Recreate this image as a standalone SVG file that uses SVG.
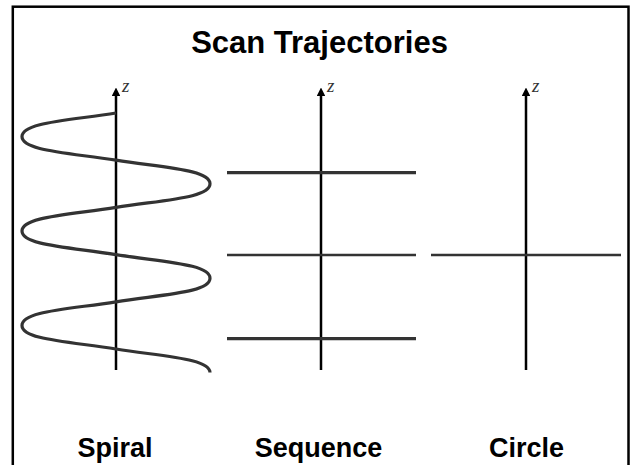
<svg xmlns="http://www.w3.org/2000/svg" width="630" height="465" viewBox="0 0 630 465">
<style>
.title{font-family:"Liberation Sans",Arial,sans-serif;font-weight:bold;font-size:31px;fill:#000;text-anchor:middle}
.lbl{font-family:"Liberation Sans",Arial,sans-serif;font-weight:bold;font-size:27px;fill:#000;text-anchor:middle}
.z{font-family:"Liberation Serif","Times New Roman",serif;font-style:italic;font-size:19px;fill:#333}
.axis{stroke:#000;stroke-width:2.5;fill:none}
.traj{stroke:#333;fill:none}
</style>
<defs>
<marker id="arr" viewBox="0 0 10 10" refX="0" refY="5" markerWidth="3.4" markerHeight="3.4" orient="auto" markerUnits="strokeWidth">
<path d="M0,0 L10,5 L0,10 z" fill="#000"/>
</marker>
</defs>
<rect x="0" y="0" width="630" height="465" fill="#fff"/>
<rect x="12.8" y="6.7" width="615.7" height="470" fill="none" stroke="#000" stroke-width="2.5"/>
<text class="title" x="319.5" y="53">Scan Trajectories</text>

<g id="spiral">
<line class="axis" x1="116" y1="370" x2="116" y2="96" marker-end="url(#arr)"/>
<text class="z" x="122" y="92">z</text>
<path class="traj" stroke-width="3.2" d="M116,113 C66,120.75 22,122.6 22,136.6 C22,150.6 66,152.45 116,160.2 C166,167.95 210,169.8 210,183.8 C210,197.8 166,199.65 116,207.4 C66,215.15 22,217 22,231 C22,245 66,246.85 116,254.6 C166,262.35 210,264.2 210,278.2 C210,292.2 166,294.05 116,301.8 C66,309.55 22,311.4 22,325.4 C22,339.4 66,341.25 116,349 C166,356.75 210,358.6 210,372.6"/>
<text class="lbl" x="115" y="457">Spiral</text>
</g>

<g id="sequence">
<line class="axis" x1="321" y1="370" x2="321" y2="96" marker-end="url(#arr)"/>
<text class="z" x="327" y="92">z</text>
<line class="traj" stroke-width="3.2" x1="227" y1="172.7" x2="416" y2="172.7"/>
<line class="traj" stroke-width="2.4" x1="227" y1="255" x2="416" y2="255"/>
<line class="traj" stroke-width="3.2" x1="227" y1="338.7" x2="416" y2="338.7"/>
<text class="lbl" x="318.5" y="457">Sequence</text>
</g>

<g id="circle">
<line class="axis" x1="526" y1="370" x2="526" y2="96" marker-end="url(#arr)"/>
<text class="z" x="532" y="92">z</text>
<line class="traj" stroke-width="2.6" x1="431" y1="255" x2="621" y2="255"/>
<text class="lbl" x="526.5" y="457">Circle</text>
</g>
</svg>
